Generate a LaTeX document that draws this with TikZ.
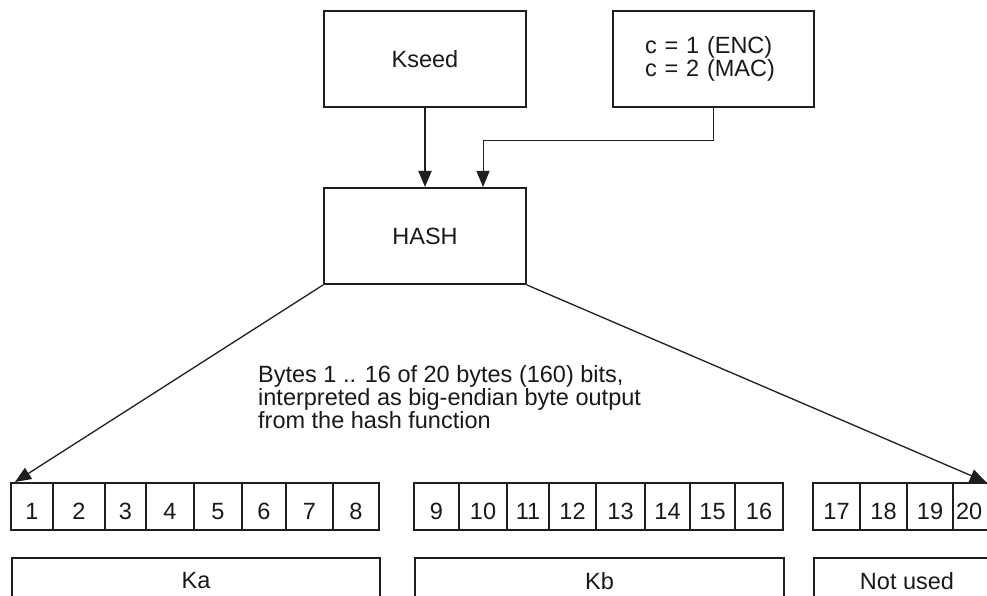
\documentclass[tikz,border=0pt]{standalone}
\usepackage{fontspec}
\setmainfont{Liberation Sans}
\usetikzlibrary{arrows.meta,calc}
\begin{document}
\begin{tikzpicture}[x=1pt,y=-1pt,
  txt/.style={font=\fontsize{23.5}{23}\selectfont, text=black!90},
  box/.style={txt, draw=black!88, line width=2pt, inner sep=0pt, anchor=north west},
  byte/.style={txt, draw=black!88, line width=1.8pt, minimum height=47pt, inner sep=0pt, text height=25pt, text depth=0pt},
  tip/.style={-{Triangle[length=16pt,width=13pt]}},
  conn/.style={draw=black!88, tip}
]
\useasboundingbox (0,0) rectangle (987,596);
\clip (0,0) rectangle (987,596);

% top boxes
\node[box, minimum width=202pt, minimum height=96pt] (kseed) at (323,10) {Kseed};
\node[box, minimum width=201pt, minimum height=96pt, align=left, text width=137pt] (cbox) at (612,10) {c = 1 (ENC)\\c = 2 (MAC)};
\node[box, minimum width=202pt, minimum height=96pt] (hash) at (323,187) {HASH};

% connectors to HASH
\coordinate (hin) at (483,187);
\draw[conn, line width=2pt] (kseed.south) -- (hash.north);
\draw[conn, line width=1pt] (cbox.south) -- ++(0,33) -| (hin);

% diagonal arrows
\coordinate (tl) at (15,482);
\coordinate (tr) at (986,482);
\draw[conn, line width=1.3pt] (hash.south west) -- (tl);
\draw[conn, line width=1.3pt] (hash.south east) -- (tr);

% description (anchor is the baseline of the last line)
\node[txt, anchor=base west, align=left, inner sep=0pt] (desc) at (258,428)
  {Bytes 1 .. 16 of 20 bytes (160) bits,\\interpreted as big-endian byte output\\from the hash function};

% byte cells
\foreach \n/\cx/\w in {1/32/42, 2/79/52, 3/125.5/41, 4/170/48, 5/218/48, 6/264/44, 7/309.5/47, 8/356/46,
  9/436.5/45, 10/483/48, 11/528/42, 12/572.5/47, 13/620.5/49, 14/667.5/45, 15/712.5/45, 16/759/48,
  17/836.5/47, 18/883.5/47, 19/930/46}
  \node[byte, minimum width=\w pt] (b\n) at (\cx,506.5) {\n};
\node[byte, minimum width=47pt, align=left, text width=41pt] (b20) at (976.5,506.5) {20};

% key boxes
\node[box, minimum width=368pt, minimum height=46pt] (ka) at (11,557) {Ka};
\node[box, minimum width=369pt, minimum height=46pt] (kb) at (414,557) {Kb};
\node[box, minimum width=186pt, minimum height=46pt] (nu) at (813,557) {Not used};
\end{tikzpicture}
\end{document}
